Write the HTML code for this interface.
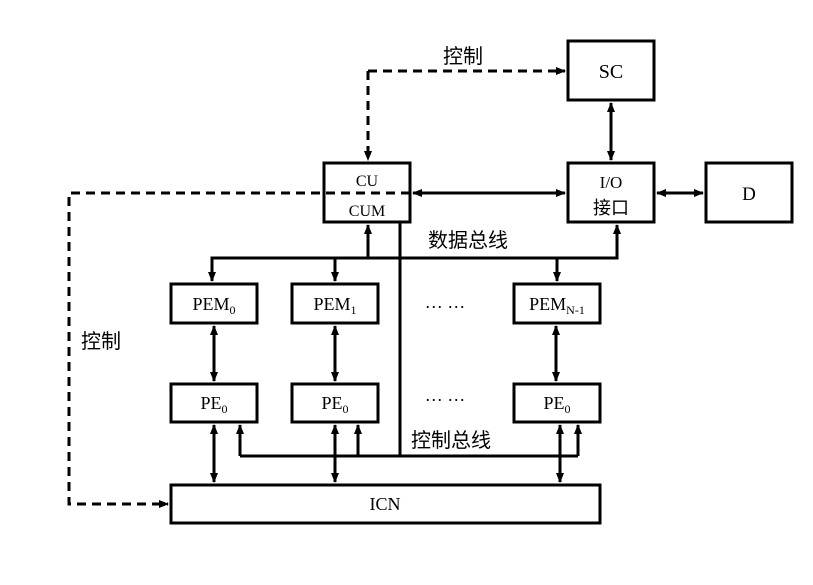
<!DOCTYPE html>
<html><head><meta charset="utf-8"><style>
html,body{margin:0;padding:0;background:#fff;}
svg{display:block;}
text{font-family:"Liberation Serif","Noto Serif CJK SC",serif;fill:#000;}
.cj{font-family:"Liberation Sans","Noto Sans CJK SC",sans-serif;}
</style></head><body>
<svg width="813" height="585" viewBox="0 0 813 585" xmlns="http://www.w3.org/2000/svg">
<defs>
<marker id="a" markerWidth="10" markerHeight="10" refX="9" refY="5" orient="auto-start-reverse" markerUnits="userSpaceOnUse">
<path d="M0,1 L10,5 L0,9 Z" fill="#000"/></marker>
</defs>
<g fill="none" stroke="#000" stroke-width="3">
<rect x="568" y="41" width="86" height="59"/>
<rect x="324" y="163" width="86" height="59"/>
<rect x="568" y="163" width="86" height="59"/>
<rect x="706" y="163" width="86" height="59"/>
<rect x="171" y="284" width="86" height="39"/>
<rect x="292" y="284" width="86" height="39"/>
<rect x="514" y="284" width="86" height="39"/>
<rect x="171" y="384" width="86" height="38"/>
<rect x="292" y="384" width="86" height="38"/>
<rect x="514" y="384" width="86" height="38"/>
<rect x="171" y="485" width="429" height="38"/>
</g>
<g fill="none" stroke="#000" stroke-width="3" stroke-dasharray="9,6">
<path d="M368,71 L368,160" marker-end="url(#a)"/>
<path d="M368,71 L565,71" marker-end="url(#a)"/>
<path d="M410,193 L69,193 L69,504 L168,504" marker-end="url(#a)"/>
</g>
<g fill="none" stroke="#000" stroke-width="3">
<path d="M611,103 L611,160" marker-start="url(#a)" marker-end="url(#a)"/>
<path d="M413,193 L565,193" marker-start="url(#a)" marker-end="url(#a)"/>
<path d="M657,193 L703,193" marker-start="url(#a)" marker-end="url(#a)"/>
<path d="M212,281 L212,258 L617,258 L617,225" marker-end="url(#a)"/>
<path d="M212,258 L212,281" marker-end="url(#a)"/>
<path d="M368,258 L368,225" marker-end="url(#a)"/>
<path d="M335,258 L335,281" marker-end="url(#a)"/>
<path d="M557,258 L557,281" marker-end="url(#a)"/>
<path d="M400,222 L400,456"/>
<path d="M214,326 L214,381" marker-start="url(#a)" marker-end="url(#a)"/>
<path d="M335,326 L335,381" marker-start="url(#a)" marker-end="url(#a)"/>
<path d="M556,326 L556,381" marker-start="url(#a)" marker-end="url(#a)"/>
<path d="M214,425 L214,482" marker-start="url(#a)" marker-end="url(#a)"/>
<path d="M335,425 L335,482" marker-start="url(#a)" marker-end="url(#a)"/>
<path d="M560,425 L560,482" marker-start="url(#a)" marker-end="url(#a)"/>
<path d="M240,456 L578,456"/>
<path d="M240,456 L240,425" marker-end="url(#a)"/>
<path d="M358,456 L358,425" marker-end="url(#a)"/>
<path d="M578,456 L578,425" marker-end="url(#a)"/>
</g>
<g font-size="18" text-anchor="middle">
<text x="611" y="78" font-size="20">SC</text>
<text x="367" y="186" font-size="16">CU</text>
<text x="367" y="216" font-size="16">CUM</text>
<text x="611" y="188" font-size="17">I/O</text>
<text x="611" y="214" font-size="18" class="cj">接口</text>
<text x="749" y="200" font-size="19">D</text>
<text x="214" y="310">PEM<tspan font-size="12" dy="4">0</tspan></text>
<text x="335" y="310">PEM<tspan font-size="12" dy="4">1</tspan></text>
<text x="557" y="310">PEM<tspan font-size="12" dy="4">N-1</tspan></text>
<text x="214" y="409">PE<tspan font-size="12" dy="4">0</tspan></text>
<text x="335" y="409">PE<tspan font-size="12" dy="4">0</tspan></text>
<text x="557" y="409">PE<tspan font-size="12" dy="4">0</tspan></text>
<text x="385" y="510">ICN</text>
<text x="445" y="313" font-size="18">··· ···</text>
<text x="445" y="406" font-size="18">··· ···</text>
</g>
<g font-size="20" class="cj">
<text x="443" y="63" class="cj">控制</text>
<text x="81" y="348" class="cj">控制</text>
<text x="428" y="247" class="cj">数据总线</text>
<text x="411" y="447" class="cj">控制总线</text>
</g>
</svg>
</body></html>
